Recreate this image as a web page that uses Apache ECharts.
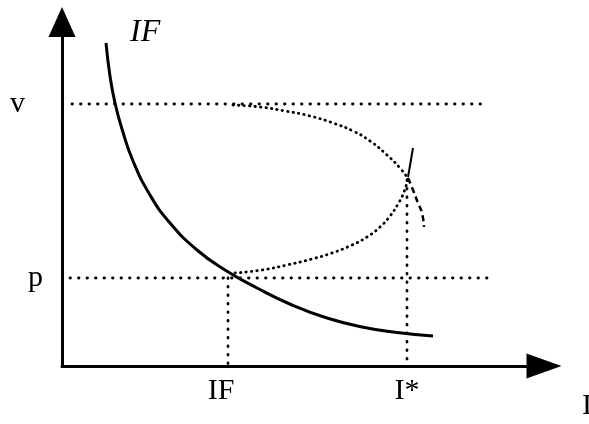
<!DOCTYPE html>
<html>
<head>
<meta charset="utf-8">
<script src="https://cdn.jsdelivr.net/npm/echarts@6/dist/echarts.min.js"></script>
<style>
  html, body { margin: 0; padding: 0; background: #fff; }
  #chart { width: 589px; height: 424px; }
</style>
</head>
<body>
<div id="chart"></div>
<script>
// axis extents
const xMax = 482;
const yMax = 344;

// tick labels
const xTickValues = [166, 345];
const xTickLabels = ['IF', 'I*'];
const yTickValues = [88, 262];
const yTickLabels = ['p', 'v'];

// solid IF curve
const ifCurve = [
  [44, 323], [48, 290], [53, 263], [60, 237], [71, 205], [88, 171],
  [108, 143], [135, 116], [163, 96], [195, 78], [230, 61], [265, 48],
  [300, 39], [335, 33.5], [371, 30]
];

// dotted guide lines
const vLine = [[10, 262], [420, 262]];
const pLine = [[8, 88], [426, 88]];
const ifDrop = [[166, 88], [166, -6]];
const starDrop = [[345, 186], [345, 0]];

// dotted curves meeting at I*
const upperCurve = [
  [171, 261], [198, 259], [223, 255], [248, 250], [271, 243], [291, 235],
  [308, 225], [325, 211], [338, 198], [345, 189]
];
const lowerCurve = [
  [173, 93], [200, 96], [225, 101], [250, 107], [270, 113], [290, 121],
  [305, 129], [318, 139], [328, 150], [336, 162], [342, 174], [346, 188]
];
const upperTail = [[346, 188], [351, 176], [356, 163], [360, 153], [362, 139]];
const stroke = [[351, 218], [346, 189]];

const chart = echarts.init(document.getElementById('chart'));

const dots = { color: '#000', width: 2.8, type: [0.5, 8], cap: 'round' };
const fine = { color: '#000', width: 2.8, type: [0.5, 5], cap: 'round' };

function line(data, lineStyle, smooth) {
  return {
    type: 'line',
    data: data,
    showSymbol: false,
    smooth: smooth ? 0.5 : false,
    silent: true,
    animation: false,
    lineStyle: lineStyle
  };
}

const serif = '"Liberation Serif", "DejaVu Serif", serif';

chart.setOption({
  backgroundColor: '#fff',
  animation: false,
  grid: { left: 62, right: 45, top: 22, bottom: 58 },
  xAxis: {
    type: 'value',
    min: 0,
    max: xMax,
    splitLine: { show: false },
    axisTick: { show: false },
    axisLine: {
      lineStyle: { color: '#000', width: 3 },
      symbol: ['none', 'triangle'],
      symbolSize: [25, 35]
    },
    axisLabel: {
      customValues: xTickValues,
      margin: 10,
      color: '#000',
      fontFamily: serif,
      fontSize: 30,
      formatter: v => {
        const i = xTickValues.indexOf(v);
        return i === 0 ? '{a|' + xTickLabels[i] + '}' : xTickLabels[i];
      },
      rich: { a: { fontFamily: serif, fontSize: 30, color: '#000', padding: [0, 14, 0, 0] } }
    }
  },
  yAxis: {
    type: 'value',
    min: 0,
    max: yMax,
    splitLine: { show: false },
    axisTick: { show: false },
    axisLine: {
      lineStyle: { color: '#000', width: 3 },
      symbol: ['none', 'triangle'],
      symbolSize: [27, 30]
    },
    axisLabel: {
      customValues: yTickValues,
      margin: 19,
      color: '#000',
      fontFamily: serif,
      fontSize: 30,
      formatter: v => {
        const i = yTickValues.indexOf(v);
        return i === 1 ? '{a|' + yTickLabels[i] + '}' : yTickLabels[i];
      },
      rich: { a: { fontFamily: serif, fontSize: 30, color: '#000', padding: [0, 18, 0, 0] } }
    }
  },
  series: [
    line(vLine, dots),
    line(pLine, dots),
    line(ifDrop, dots),
    line(starDrop, dots),
    line(upperCurve, fine, true),
    line(lowerCurve, fine, true),
    line(upperTail, { color: '#000', width: 2.5, type: [6, 4] }, true),
    line(stroke, { color: '#000', width: 2 }),
    line(ifCurve, { color: '#000', width: 3 }, true)
  ],
  graphic: [
    {
      type: 'text',
      left: 130,
      top: 17,
      style: { text: 'IF', font: 'italic 32px ' + serif, fill: '#000' }
    },
    {
      type: 'text',
      left: 582,
      top: 391,
      style: { text: 'I', font: '30px ' + serif, fill: '#000' }
    }
  ]
});
</script>
</body>
</html>
